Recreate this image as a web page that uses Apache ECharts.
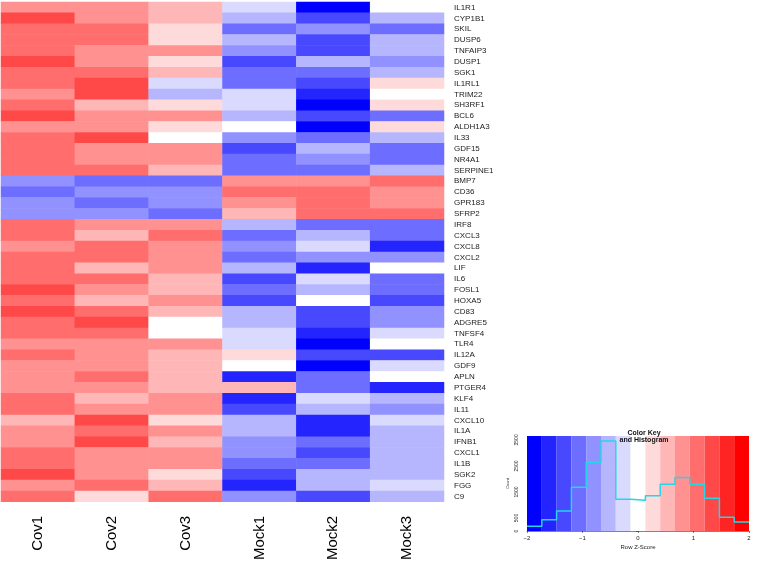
<!DOCTYPE html>
<html>
<head>
    <meta charset="UTF-8">
    <title>Heatmap</title>
    <script src="https://cdn.jsdelivr.net/npm/echarts@6/dist/echarts.min.js"></script>
    <style>
        body { margin: 0; background: #fff; }
    </style>
</head>
<body>
<div id="main" style="width: 765px;height:563px;"></div>
<script type="text/javascript">
    var samples = ['Cov1', 'Cov2', 'Cov3', 'Mock1', 'Mock2', 'Mock3'];
    var genes = ['IL1R1', 'CYP1B1', 'SKIL', 'DUSP6', 'TNFAIP3', 'DUSP1', 'SGK1', 'IL1RL1', 'TRIM22', 'SH3RF1',
        'BCL6', 'ALDH1A3', 'IL33', 'GDF15', 'NR4A1', 'SERPINE1', 'BMP7', 'CD36', 'GPR183', 'SFRP2',
        'IRF8', 'CXCL3', 'CXCL8', 'CXCL2', 'LIF', 'IL6', 'FOSL1', 'HOXA5', 'CD83', 'ADGRE5',
        'TNFSF4', 'TLR4', 'IL12A', 'GDF9', 'APLN', 'PTGER4', 'KLF4', 'IL11', 'CXCL10', 'IL1A',
        'IFNB1', 'CXCL1', 'IL1B', 'SGK2', 'FGG', 'C9'];

    // row z-scores, one array per sample (gene order as above)
    var cov1 = [0.8, 1.33, 1.07, 1.07, 1.07, 1.33, 1.07, 1.07, 0.8, 1.07, 1.33, 0.8, 1.07, 1.07, 1.07, 1.07, -0.8, -1.07, -0.8, -0.8,
        1.07, 1.07, 0.8, 1.07, 1.07, 1.07, 1.33, 1.07, 1.33, 1.07, 1.07, 0.8, 1.07, 0.8, 0.8, 0.8, 1.07, 1.07, 0.53, 0.8,
        0.8, 1.07, 1.07, 1.33, 0.8, 1.07];
    var cov2 = [0.8, 0.8, 1.07, 1.07, 0.8, 0.8, 1.07, 1.33, 1.33, 0.53, 0.8, 0.8, 1.33, 0.8, 0.8, 1.07, -1.07, -0.8, -1.07, -0.8,
        0.8, 0.53, 1.07, 1.07, 0.53, 1.07, 0.8, 0.53, 1.07, 1.33, 1.07, 0.8, 0.8, 0.8, 1.07, 0.8, 0.53, 0.8, 1.33, 1.07,
        1.33, 0.8, 0.8, 0.8, 1.07, 0.27];
    var cov3 = [0.53, 0.53, 0.27, 0.27, 0.8, 0.27, 0.53, -0.27, -0.53, 0.27, 0.8, 0.27, 0, 0.8, 0.8, 0.53, -1.07, -0.8, -0.8, -1.07,
        0.8, 1.07, 0.8, 0.8, 0.8, 0.53, 0.53, 0.8, 0.53, 0, 0, 0.8, 0.53, 0.53, 0.53, 0.53, 0.8, 0.8, 0.27, 0.8,
        0.53, 0.8, 0.8, 0.27, 0.53, 1.07];
    var mock1 = [-0.27, -0.53, -1.07, -0.53, -0.8, -1.33, -1.07, -1.07, -0.27, -0.27, -0.53, 0, -0.8, -1.33, -1.07, -1.07, 0.8, 1.07, 0.8, 0.53,
        -0.53, -1.07, -0.8, -1.07, -0.53, -1.33, -1.07, -1.33, -0.53, -0.53, -0.27, -0.27, 0.27, 0, -1.6, 0.53, -1.6, -1.33, -0.53, -0.53,
        -0.8, -0.8, -1.07, -1.33, -1.6, -0.8];
    var mock2 = [-1.87, -1.33, -0.8, -1.33, -1.33, -0.53, -1.07, -1.33, -1.6, -1.87, -1.33, -1.87, -1.07, -0.53, -0.8, -1.07, 0.8, 1.07, 1.07, 1.07,
        -1.07, -0.53, -0.27, -0.8, -1.6, -0.27, -0.53, 0, -1.33, -1.33, -1.6, -1.87, -1.33, -1.87, -1.07, -1.07, -0.27, -0.53, -1.6, -1.6,
        -1.07, -1.33, -1.07, -0.53, -0.53, -1.33];
    var mock3 = [0, -0.53, -1.07, -0.53, -0.53, -0.8, -0.53, 0.27, 0, 0.27, -1.07, 0.27, -0.53, -1.07, -1.07, -0.53, 1.07, 0.8, 0.8, 1.07,
        -1.07, -1.07, -1.6, -0.8, 0, -1.07, -1.07, -1.33, -0.8, -0.8, -0.27, 0, -1.33, -0.27, 0, -1.6, -0.53, -0.8, -0.27, -0.53,
        -0.53, -0.53, -0.53, -0.53, -0.27, -0.53];

    // color key: 15 bins between -2 and 2, histogram counts per bin
    var keyColors = ['#0000FF', '#2424FF', '#4848FF', '#6D6DFF', '#9191FF', '#B6B6FF', '#DADAFF', '#FFFFFF',
        '#FFDADA', '#FFB6B6', '#FF9191', '#FF6D6D', '#FF4848', '#FF2424', '#FF0000'];
    var histCounts = [180, 435, 770, 1680, 2640, 3460, 1220, 1180, 1350, 1800, 2060, 1800, 1260, 530, 350];
    var keyTicks = [-2, -1, 0, 1, 2];
    var countTicks = [0, 500, 1000, 1500, 2000, 2500, 3000, 3500];
    var countLabels = [0, 500, 1500, 2500, 3500];

    var columns = [cov1, cov2, cov3, mock1, mock2, mock3];
    var cells = [];
    for (var c = 0; c < columns.length; c++) {
        for (var r = 0; r < genes.length; r++) {
            cells.push([c, r, columns[c][r]]);
        }
    }

    var binW = 4 / keyColors.length;
    var pieces = [];
    var bands = [];
    var hist = [];
    for (var i = 0; i < keyColors.length; i++) {
        var lo = -2 + i * binW, hi = -2 + (i + 1) * binW;
        pieces.push({gte: lo, lt: hi, color: keyColors[i]});
        bands.push([{xAxis: lo, itemStyle: {color: keyColors[i]}}, {xAxis: hi}]);
        hist.push([lo, histCounts[i]]);
    }
    pieces[pieces.length - 1].lte = 2;
    hist.push([2, histCounts[histCounts.length - 1]]);

    var font = 'Liberation Sans, Arial, sans-serif';
    var myChart = echarts.init(document.getElementById('main'));

    var option = {
        backgroundColor: '#fff',
        animation: false,
        textStyle: {fontFamily: font},
        title: {
            text: 'Color Key\nand Histogram',
            left: 639, top: 425, textAlign: 'center',
            textStyle: {fontSize: 7, fontWeight: 'bold', color: '#111', lineHeight: 7}
        },
        grid: [
            {left: 1, top: 2, width: 443, height: 500},
            {left: 527, top: 436, width: 222, height: 95}
        ],
        xAxis: [
            {
                type: 'category', gridIndex: 0, data: samples,
                axisLine: {show: false}, axisTick: {show: false},
                axisLabel: {rotate: 90, fontSize: 15, color: '#000', margin: 14}
            },
            {
                type: 'value', gridIndex: 1, min: -2, max: 2, interval: 1,
                splitLine: {show: false},
                axisLine: {show: true, onZero: false, lineStyle: {color: '#333', width: 0.6}},
                axisTick: {show: true, length: 2, lineStyle: {color: '#333', width: 0.6}},
                axisLabel: {fontSize: 6, color: '#222', margin: 4, formatter: function (v) {
                    return keyTicks.indexOf(v) >= 0 ? String(v).replace('-', '\u2212') : '';
                }},
                name: 'Row Z-Score', nameLocation: 'middle', nameGap: 13,
                nameTextStyle: {fontSize: 6, color: '#222'}
            }
        ],
        yAxis: [
            {
                type: 'category', gridIndex: 0, data: genes, inverse: true, position: 'right',
                axisLine: {show: false}, axisTick: {show: false},
                axisLabel: {fontSize: 8, color: '#222', margin: 10}
            },
            {
                type: 'value', gridIndex: 1, min: 0, max: 3650, offset: 5,
                splitLine: {show: false},
                axisLine: {show: true, lineStyle: {color: '#333', width: 0.6}},
                axisTick: {show: true, length: 2, customValues: countTicks, lineStyle: {color: '#333', width: 0.6}},
                axisLabel: {fontSize: 5, color: '#222', rotate: 90, margin: 3, customValues: countLabels,
                    formatter: function (v) { return String(v); }},
                name: 'Count', nameLocation: 'middle', nameGap: 12, nameRotate: 90,
                nameTextStyle: {fontSize: 4, color: '#222'}
            }
        ],
        visualMap: {
            type: 'piecewise', show: false, seriesIndex: 0, dimension: 2,
            pieces: pieces
        },
        series: [
            {
                type: 'heatmap', xAxisIndex: 0, yAxisIndex: 0,
                data: cells
            },
            {
                type: 'line', xAxisIndex: 1, yAxisIndex: 1, data: [], z: 1,
                markArea: {silent: true, data: bands}
            },
            {
                type: 'line', xAxisIndex: 1, yAxisIndex: 1, z: 5,
                step: 'end', symbol: 'none',
                lineStyle: {color: '#20D8E8', width: 1.5},
                data: hist
            }
        ]
    };

    myChart.setOption(option);
</script>
</body>
</html>
